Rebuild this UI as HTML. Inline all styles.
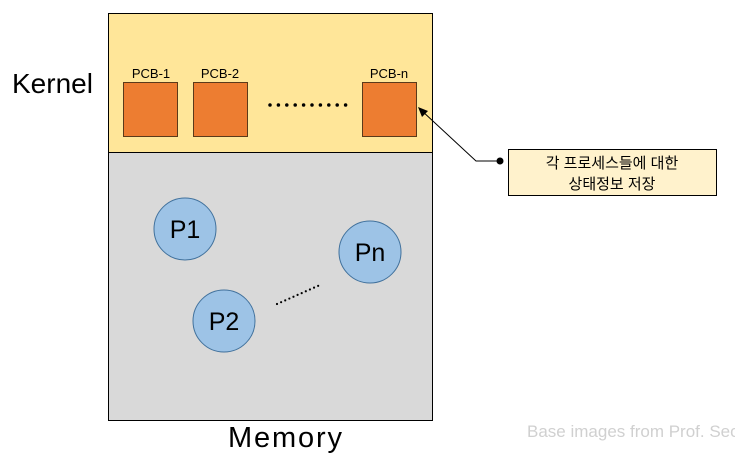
<!DOCTYPE html>
<html><head><meta charset="utf-8"><style>
body{margin:0;width:735px;height:455px;background:#fff;overflow:hidden;position:relative;font-family:"Liberation Sans","Noto Sans CJK KR",sans-serif}
</style></head><body>
<svg width="735" height="455" style="position:absolute;left:0;top:0" font-family="Liberation Sans, Noto Sans CJK KR, sans-serif">
<rect x="108.5" y="13.5" width="324" height="139" fill="#ffe699" stroke="#000"/>
<rect x="108.5" y="152.5" width="324" height="268" fill="#d9d9d9" stroke="#000"/>
<g fill="#ed7d31" stroke="#5a3a1a" stroke-width="1">
<rect x="123.5" y="82.5" width="54" height="54"/>
<rect x="193.5" y="82.5" width="54" height="54"/>
<rect x="362.5" y="82.5" width="54" height="54"/>
</g>
<g font-size="13" text-anchor="middle" fill="#000">
<text x="151" y="78">PCB-1</text>
<text x="220" y="78">PCB-2</text>
<text x="389" y="78">PCB-n</text>
</g>
<line x1="270" y1="105" x2="346" y2="105" stroke="#000" stroke-width="3.5" stroke-dasharray="0,8.4" stroke-linecap="round"/>
<polyline points="500,161 476,161 421,110" fill="none" stroke="#000" stroke-width="1"/>
<polygon points="418,107 428,111 422,117" fill="#000"/>
<circle cx="500" cy="161" r="3.5" fill="#000"/>
<rect x="508.5" y="149.5" width="208" height="46" fill="#fff2cc" stroke="#000"/>
<text x="612" y="168" font-size="15" text-anchor="middle">각 프로세스들에 대한</text>
<text x="612" y="189" font-size="15" text-anchor="middle">상태정보 저장</text>
<g fill="#9dc3e6" stroke="#41719c" stroke-width="1">
<circle cx="185" cy="229" r="31"/>
<circle cx="370" cy="252" r="31"/>
<circle cx="224" cy="321" r="31"/>
</g>
<g font-size="25" text-anchor="middle">
<text x="185" y="238">P1</text>
<text x="370" y="261">Pn</text>
<text x="224" y="330">P2</text>
</g>
<line x1="277" y1="304" x2="320" y2="285" stroke="#000" stroke-width="2.2" stroke-dasharray="0,4.5" stroke-linecap="round"/>
<text x="12" y="93" font-size="28">Kernel</text>
<text x="285" y="447" font-size="29" text-anchor="middle" textLength="114">Memory</text>
<text x="527" y="437" font-size="17" fill="#d0d0d0">Base images from Prof. Seo</text>
</svg>
</body></html>
